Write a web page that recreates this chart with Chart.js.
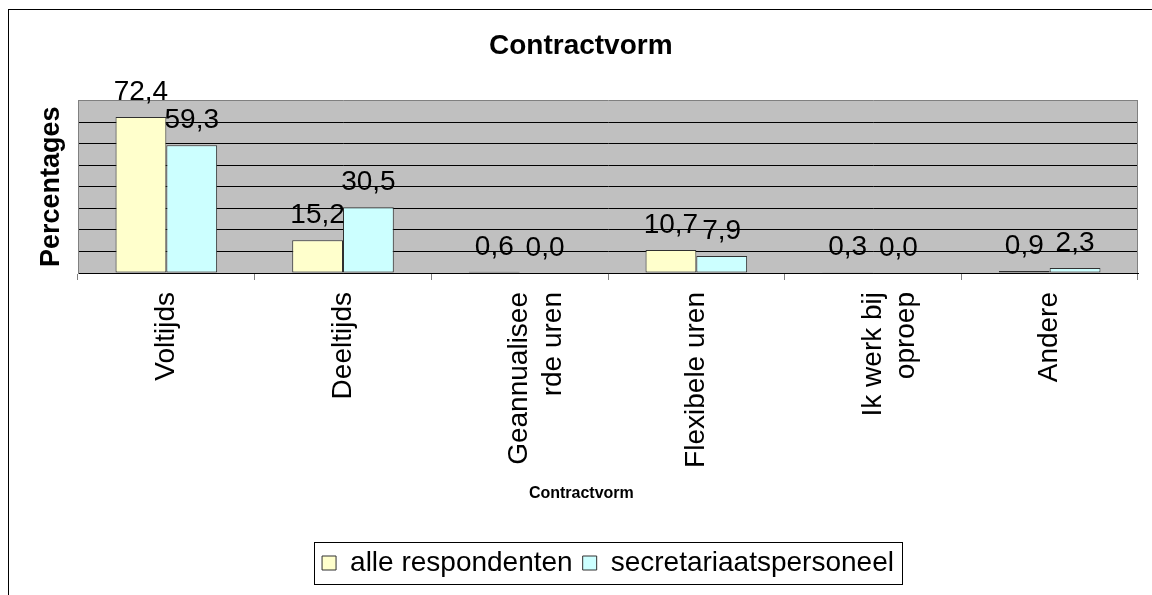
<!DOCTYPE html>
<html>
<head>
<meta charset="utf-8">
<script src="https://cdn.jsdelivr.net/npm/chart.js@4.4.1/dist/chart.umd.min.js"></script>
<style>
  html, body { margin: 0; padding: 0; background: #ffffff; }
  canvas { display: block; }
</style>
</head>
<body>
<canvas id="contractChart" width="1152" height="595"></canvas>
<script>
// data
const categories = ["Voltijds", "Deeltijds", ["Geannualisee", "rde uren"], "Flexibele uren", ["Ik werk bij", "oproep"], "Andere"];
const alleRespondenten = [72.4, 15.2, 0.6, 10.7, 0.3, 0.9];
const secretariaatspersoneel = [59.3, 30.5, 0.0, 7.9, 0.0, 2.3];
const seriesNames = ["alle respondenten", "secretariaatspersoneel"];
const yMin = 0;
const yMax = 80;
const yStep = 10;

const FONT = '"Liberation Sans", Arial, sans-serif';

// white page, outer frame and grey plot area
const backgroundPlugin = {
	id: "background",
	beforeDraw(chart) {
		const ctx = chart.ctx;
		const a = chart.chartArea;
		ctx.save();
		ctx.fillStyle = "#ffffff";
		ctx.fillRect(0, 0, chart.width, chart.height);
		ctx.strokeStyle = "#000000";
		ctx.lineWidth = 1;
		ctx.strokeRect(8.5, 9.5, 1300, 800);
		ctx.fillStyle = "#c0c0c0";
		ctx.fillRect(a.left, a.top, a.right - a.left, a.bottom - a.top);
		ctx.restore();
	},
	beforeDatasetsDraw(chart) {
		// right edge of the plot area
		const ctx = chart.ctx;
		const a = chart.chartArea;
		ctx.save();
		ctx.strokeStyle = "#808080";
		ctx.lineWidth = 1;
		ctx.beginPath();
		ctx.moveTo(Math.round(a.right) - 0.5, a.top);
		ctx.lineTo(Math.round(a.right) - 0.5, a.bottom);
		ctx.stroke();
		ctx.restore();
	}
};

// value labels above each bar, with a decimal comma
const valueLabelPlugin = {
	id: "valueLabels",
	afterDatasetsDraw(chart) {
		const ctx = chart.ctx;
		ctx.save();
		ctx.font = "28px " + FONT;
		ctx.fillStyle = "#000000";
		ctx.textAlign = "center";
		ctx.textBaseline = "alphabetic";
		chart.data.datasets.forEach((ds, i) => {
			const meta = chart.getDatasetMeta(i);
			meta.data.forEach((bar, j) => {
				const txt = ds.data[j].toFixed(1).replace(".", ",");
				ctx.fillText(txt, bar.x, bar.y - 17);
			});
		});
		ctx.restore();
	}
};

// border round the legend
const legendBoxPlugin = {
	id: "legendBox",
	afterDraw(chart) {
		const lg = chart.legend;
		if (!lg || !lg.legendHitBoxes || !lg.legendHitBoxes.length) return;
		const boxes = lg.legendHitBoxes;
		const first = boxes[0];
		const last = boxes[boxes.length - 1];
		const cy = first.top + first.height / 2;
		const left = Math.round(first.left - 8) + 0.5;
		const right = Math.round(last.left + last.width + 8) + 0.5;
		const ctx = chart.ctx;
		ctx.save();
		ctx.strokeStyle = "#000000";
		ctx.lineWidth = 1;
		ctx.strokeRect(left, Math.round(cy - 21) + 0.5, right - left, 42);
		ctx.restore();
	}
};

const chart = new Chart(document.getElementById("contractChart").getContext("2d"), {
	type: "bar",
	data: {
		labels: categories,
		datasets: [
			{
				label: seriesNames[0],
				data: alleRespondenten,
				backgroundColor: "#ffffcc",
				borderColor: "#303030",
				borderWidth: 1,
				borderSkipped: false,
				categoryPercentage: 0.575,
				barPercentage: 1.0
			},
			{
				label: seriesNames[1],
				data: secretariaatspersoneel,
				backgroundColor: "#ccffff",
				borderColor: "#303030",
				borderWidth: 1,
				borderSkipped: false,
				categoryPercentage: 0.575,
				barPercentage: 1.0
			}
		]
	},
	options: {
		responsive: false,
		animation: false,
		devicePixelRatio: 1,
		layout: {
			padding: { top: 0, left: 8, right: 14, bottom: 8 }
		},
		plugins: {
			title: {
				display: true,
				text: "  Contractvorm",
				color: "#000000",
				font: { family: FONT, size: 28, weight: "bold" },
				padding: { top: 29, bottom: 38 }
			},
			legend: {
				display: true,
				position: "bottom",
				fullSize: false,
				labels: {
					color: "#000000",
					font: { family: FONT, size: 28 },
					boxWidth: 14,
					boxHeight: 14,
					padding: 10
				}
			},
			tooltip: { enabled: false }
		},
		scales: {
			x: {
				grid: {
					display: true,
					drawOnChartArea: false,
					drawTicks: true,
					tickLength: 7,
					color: "#808080",
					offset: true
				},
				border: { display: true, color: "#000000", width: 1 },
				ticks: {
					color: "#000000",
					font: { family: FONT, size: 28 },
					maxRotation: 90,
					minRotation: 90,
					autoSkip: false,
					padding: 12
				},
				title: {
					display: true,
					text: "Contractvorm            ",
					color: "#000000",
					font: { family: FONT, size: 16, weight: "bold" },
					padding: { top: 0, bottom: 36 }
				},
				afterFit(scale) {
					scale.height = 266;
				}
			},
			y: {
				min: yMin,
				max: yMax,
				ticks: { display: false, stepSize: yStep },
				grid: {
					drawTicks: false,
					lineWidth: 1,
					color: (c) => (c.tick && c.tick.value === yMax ? "#808080" : "#000000")
				},
				border: { display: true, color: "#808080", width: 1 },
				title: {
					display: true,
					text: "Percentages",
					color: "#000000",
					font: { family: FONT, size: 27, weight: "bold" },
					padding: { top: 27, bottom: 0 }
				},
				afterFit(scale) {
					scale.width = 70;
				}
			}
		}
	},
	plugins: [backgroundPlugin, valueLabelPlugin, legendBoxPlugin]
});
</script>
</body>
</html>
